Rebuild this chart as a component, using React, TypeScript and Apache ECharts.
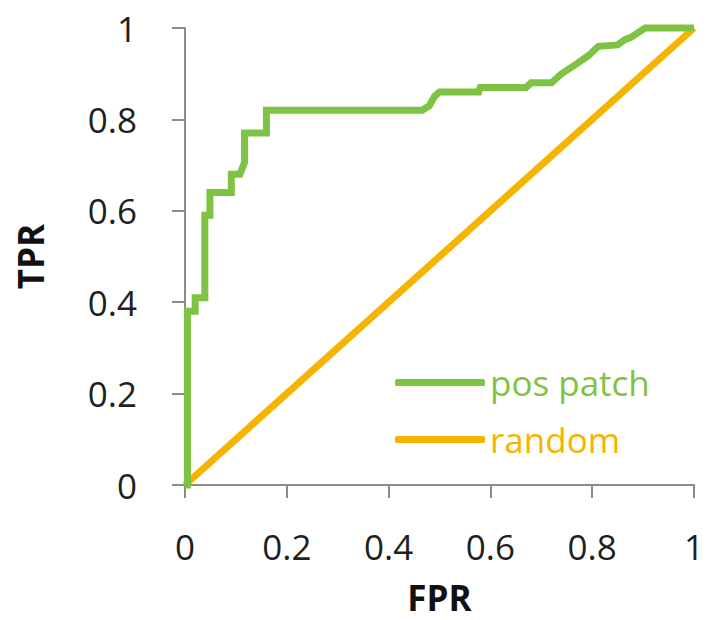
import React, { useEffect, useRef } from "react";
import * as echarts from "echarts";

const fprPos = [0, 0.005, 0.005, 0.02, 0.02, 0.039, 0.039, 0.049, 0.049, 0.091, 0.091, 0.108, 0.117, 0.117, 0.16, 0.16, 0.466, 0.48, 0.49, 0.5, 0.577, 0.58, 0.67, 0.68, 0.72, 0.74, 0.767, 0.793, 0.812, 0.85, 0.865, 0.877, 0.89, 0.904, 1];
const tprPos = [0, 0, 0.38, 0.38, 0.41, 0.41, 0.59, 0.59, 0.64, 0.64, 0.68, 0.68, 0.706, 0.77, 0.77, 0.82, 0.82, 0.83, 0.85, 0.86, 0.86, 0.87, 0.87, 0.88, 0.88, 0.9, 0.92, 0.94, 0.96, 0.963, 0.975, 0.98, 0.99, 1, 1];
const fprRandom = [0, 1];
const tprRandom = [0, 1];
const seriesNames = ["pos patch", "random"];
const GREEN = "#7fc344";
const ORANGE = "#f4b400";

export default function App() {
  const ref = useRef<HTMLDivElement>(null);
  useEffect(() => {
    if (!ref.current) return;
    const chart = echarts.init(ref.current, undefined, { renderer: "svg" });
    const font = "'Open Sans', 'Noto Sans', sans-serif";
    chart.setOption({
      animation: false,
      backgroundColor: "#ffffff",
      grid: { left: 185, right: 11, top: 28, bottom: 132 },
      legend: {
        orient: "vertical",
        left: 390,
        top: 356,
        icon: "roundRect",
        itemWidth: 90,
        itemHeight: 7,
        itemGap: 14,
        textStyle: { fontFamily: font, fontSize: 35, lineHeight: 43 },
        data: [
          { name: seriesNames[0], textStyle: { color: GREEN } },
          { name: seriesNames[1], textStyle: { color: ORANGE } },
        ],
      },
      xAxis: {
        type: "value",
        min: 0,
        max: 1,
        interval: 0.2,
        name: "FPR",
        nameLocation: "middle",
        nameGap: 95,
        nameTextStyle: { fontFamily: font, fontSize: 35, fontWeight: "bold", color: "#111" },
        axisLine: { show: true, lineStyle: { color: "#8c8c8c", width: 2 } },
        axisTick: { show: true, length: 13, lineStyle: { color: "#8c8c8c", width: 2 } },
        axisLabel: { fontFamily: font, fontSize: 35, color: "#1f1f1f", margin: 44 },
        splitLine: { show: false },
      },
      yAxis: {
        type: "value",
        min: 0,
        max: 1,
        interval: 0.2,
        name: "TPR",
        nameLocation: "middle",
        nameGap: 137,
        nameTextStyle: { fontFamily: font, fontSize: 35, fontWeight: "bold", color: "#111" },
        axisLine: { show: true, lineStyle: { color: "#8c8c8c", width: 2 } },
        axisTick: { show: true, length: 13, lineStyle: { color: "#8c8c8c", width: 2 } },
        axisLabel: { fontFamily: font, fontSize: 35, color: "#1f1f1f", margin: 48 },
        splitLine: { show: false },
      },
      series: [
        {
          name: seriesNames[1],
          type: "line",
          data: fprRandom.map((x, i) => [x, tprRandom[i]]),
          showSymbol: false,
          symbol: "none",
          clip: false,
          lineStyle: { color: ORANGE, width: 7 },
          itemStyle: { color: ORANGE },
          z: 2,
        },
        {
          name: seriesNames[0],
          type: "line",
          data: fprPos.map((x, i) => [x, tprPos[i]]),
          showSymbol: false,
          symbol: "none",
          clip: false,
          lineStyle: { color: GREEN, width: 7, join: "miter" },
          itemStyle: { color: GREEN },
          z: 3,
        },
      ],
    });
    return () => chart.dispose();
  }, []);
  return (
    <div
      ref={ref}
      style={{ position: "fixed", left: 0, top: 0, width: 707, height: 620, background: "#fff" }}
    />
  );
}
